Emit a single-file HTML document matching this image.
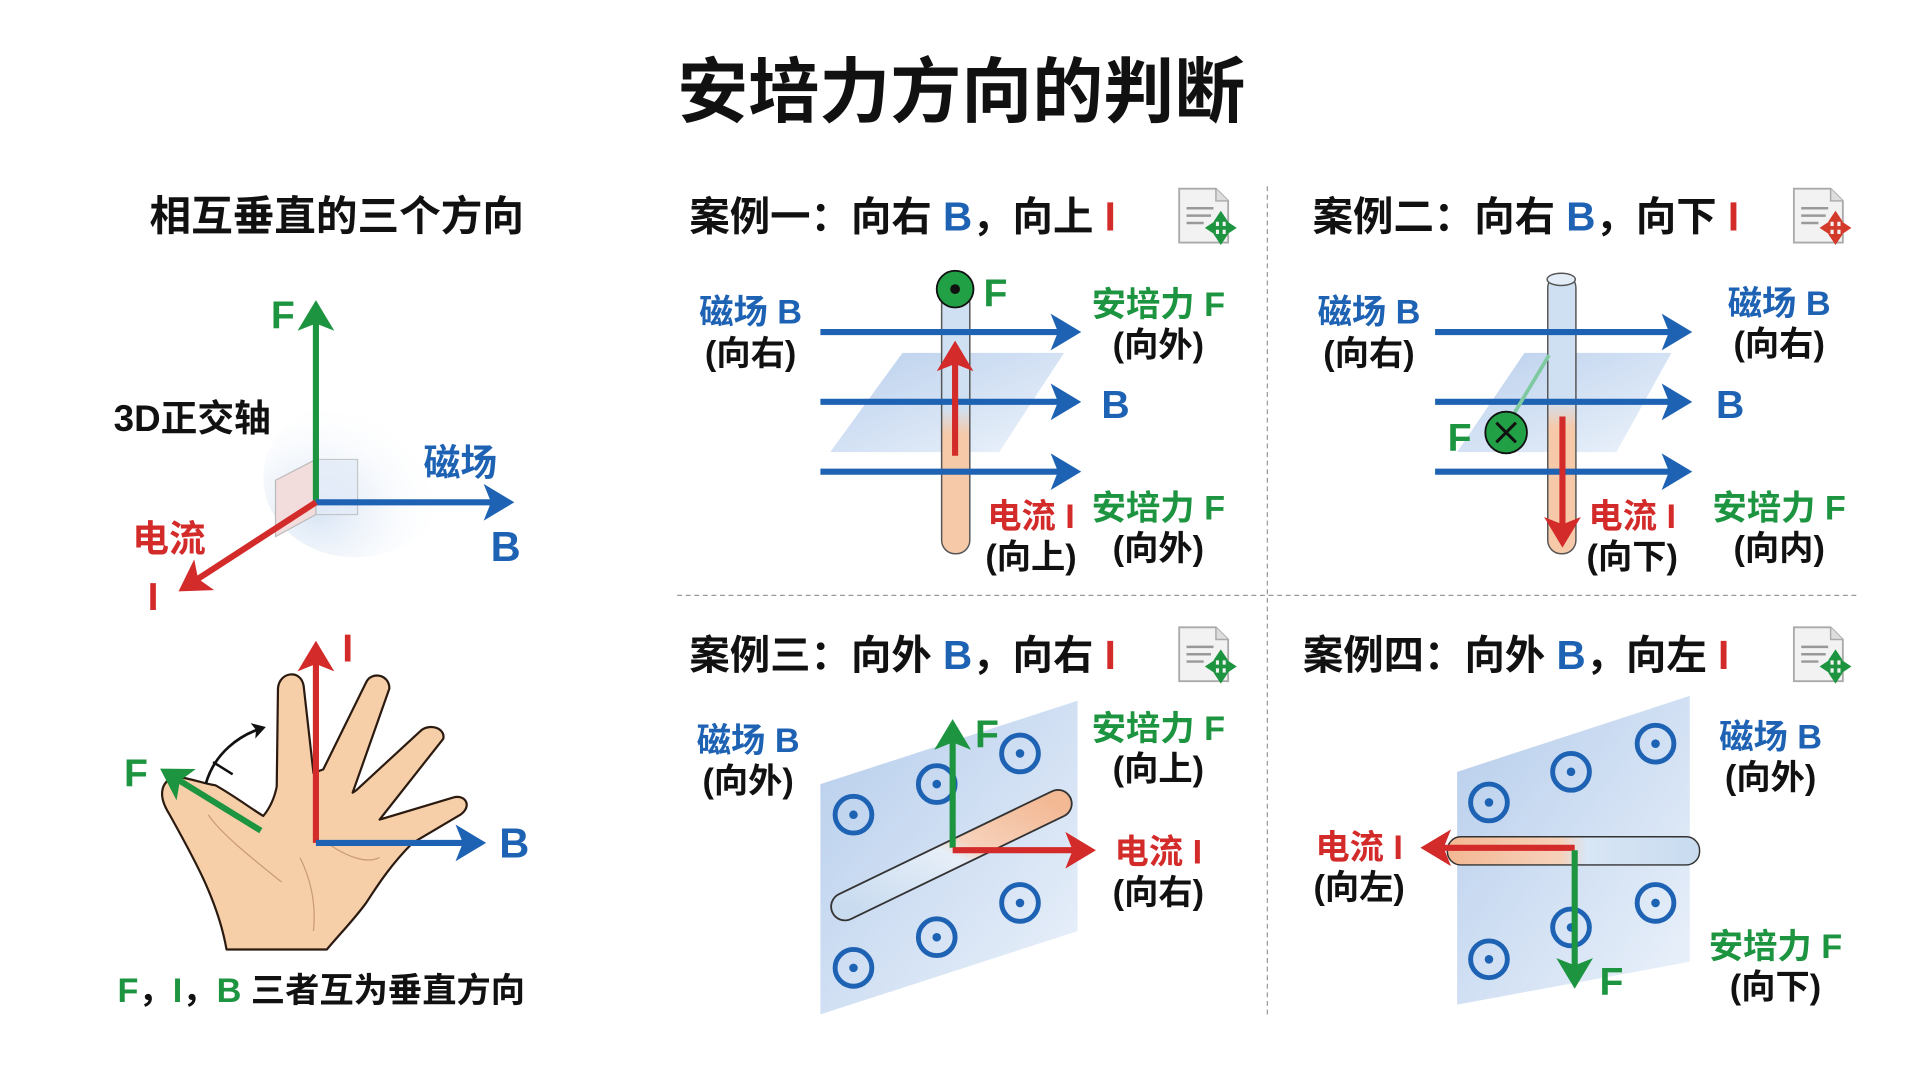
<!DOCTYPE html>
<html><head><meta charset="utf-8"><style>
html,body{margin:0;padding:0;background:#fff;}
svg{display:block;}
text{font-family:"Liberation Sans","Noto Sans CJK SC",sans-serif;font-weight:bold;}
</style></head><body>
<svg width="1920" height="1072" viewBox="0 0 1568 875" preserveAspectRatio="none" xmlns="http://www.w3.org/2000/svg">
<defs>
<marker id="ab" markerWidth="6" markerHeight="6" refX="4" refY="3" orient="auto" markerUnits="strokeWidth"><path d="M0,0 L5,3 L0,6 L1.2,3 Z" fill="#1e62b4"/></marker>
<marker id="ar" markerWidth="6" markerHeight="6" refX="4" refY="3" orient="auto" markerUnits="strokeWidth"><path d="M0,0 L5,3 L0,6 L1.2,3 Z" fill="#d32a2a"/></marker>
<marker id="ag" markerWidth="6" markerHeight="6" refX="4" refY="3" orient="auto" markerUnits="strokeWidth"><path d="M0,0 L5,3 L0,6 L1.2,3 Z" fill="#1d9440"/></marker>
<marker id="ak" markerWidth="6" markerHeight="6" refX="4" refY="3" orient="auto" markerUnits="strokeWidth"><path d="M0,0 L5,3 L0,6 L1.2,3 Z" fill="#111"/></marker>
<marker id="sg" markerWidth="4" markerHeight="4" refX="2" refY="2" orient="auto" markerUnits="strokeWidth"><path d="M0,0 L3,2 L0,4 Z" fill="#1d9440"/></marker>
<marker id="sr" markerWidth="4" markerHeight="4" refX="2" refY="2" orient="auto" markerUnits="strokeWidth"><path d="M0,0 L3,2 L0,4 Z" fill="#d33a2a"/></marker>
<linearGradient id="tubeV" x1="0" y1="0" x2="0" y2="1"><stop offset="0" stop-color="#cfe0f2"/><stop offset="0.45" stop-color="#cfe0f2"/><stop offset="0.55" stop-color="#f6c9a8"/><stop offset="1" stop-color="#f6c9a8"/></linearGradient>
<linearGradient id="plane" x1="0" y1="0" x2="1" y2="1"><stop offset="0" stop-color="#a9c4e8"/><stop offset="1" stop-color="#e8f0fa"/></linearGradient>
<linearGradient id="rodH" x1="0" y1="0" x2="1" y2="0"><stop offset="0" stop-color="#f3b894"/><stop offset="0.45" stop-color="#f6d2bb"/><stop offset="0.55" stop-color="#d8e6f5"/><stop offset="1" stop-color="#c8dbef"/></linearGradient>
<linearGradient id="rodD" x1="0" y1="1" x2="1" y2="0"><stop offset="0" stop-color="#c8dbef"/><stop offset="0.5" stop-color="#e6eef8"/><stop offset="0.6" stop-color="#f6d2bb"/><stop offset="1" stop-color="#f3b894"/></linearGradient>
<radialGradient id="glow" cx="0.3" cy="0.7" r="0.7"><stop offset="0" stop-color="#d6e3f4"/><stop offset="1" stop-color="#fff" stop-opacity="0"/></radialGradient>
<g id="icon">
<path d="M0,2 L30,2 L40,12 L40,46 L0,46 Z" fill="#f2f2f2" stroke="#aaa" stroke-width="1.5"/>
<path d="M30,2 L30,12 L40,12" fill="#ddd" stroke="#aaa" stroke-width="1.2"/>
<path d="M6,18 H28 M6,24 H26 M6,30 H20" stroke="#999" stroke-width="2"/>
</g>
<g id="ig"><g stroke="#1d9440" stroke-width="3"><line x1="34" y1="34" x2="24" y2="34" marker-end="url(#sg)"/><line x1="34" y1="34" x2="44" y2="34" marker-end="url(#sg)"/><line x1="34" y1="34" x2="34" y2="23" marker-end="url(#sg)"/><line x1="34" y1="34" x2="34" y2="45" marker-end="url(#sg)"/></g></g>
<g id="dot"><circle r="15" fill="none" stroke="#1e62b4" stroke-width="4"/><circle r="3.5" fill="#1e62b4"/></g>
</defs>

<text x="785" y="95" font-size="58" text-anchor="middle" fill="#111">安培力方向的判断</text>

<!-- Left -->
<text x="275" y="188" font-size="34" text-anchor="middle" fill="#111">相互垂直的三个方向</text>
<ellipse cx="290" cy="390" rx="75" ry="65" fill="url(#glow)"/>
<path d="M225,392 L258,375 L258,420 L225,438 Z" fill="#f2dcdc" stroke="#bbb" stroke-width="1"/>
<path d="M258,375 L292,375 L292,420 L258,420 Z" fill="#e3ecf8" stroke="#bbb" stroke-width="1" opacity="0.8"/>
<line x1="258" y1="410" x2="258" y2="250" stroke="#1d9440" stroke-width="5" marker-end="url(#ag)"/>
<line x1="258" y1="410" x2="415" y2="410" stroke="#1e62b4" stroke-width="5" marker-end="url(#ab)"/>
<line x1="258" y1="410" x2="150" y2="480" stroke="#d32a2a" stroke-width="5" marker-end="url(#ar)"/>
<text x="231" y="268" font-size="32" text-anchor="middle" fill="#1d9440">F</text>
<text x="157" y="352" font-size="30" text-anchor="middle" fill="#111">3D正交轴</text>
<text x="376" y="388" font-size="30" text-anchor="middle" fill="#1e62b4">磁场</text>
<text x="413" y="458" font-size="34" text-anchor="middle" fill="#1e62b4">B</text>
<text x="138" y="450" font-size="30" text-anchor="middle" fill="#d32a2a">电流</text>
<text x="125" y="498" font-size="32" text-anchor="middle" fill="#d32a2a">I</text>

<!-- Hand -->
<path d="M185,775 C178,735 158,700 138,664 C128,648 132,636 145,634 C158,636 168,640 176,641 C192,650 205,660 215,666 C220,660 224,652 226,642 L227,562 C228,548 246,546 248,560 L256,631 L264,628 L299,557 C303,548 318,550 318,562 L288,647 L291,645 L343,597 C350,590 364,594 362,603 L310,669 L370,651 C380,648 386,658 376,665 L337,688 C320,705 310,720 299,737 C288,752 275,765 267,775 Z" fill="#f6cfa9" stroke="#2a1a10" stroke-width="1.8" stroke-linejoin="round"/>
<path d="M170,665 C180,680 205,700 230,720 M245,700 C255,720 258,740 256,760 M270,690 C285,700 300,705 310,700" fill="none" stroke="#c99a76" stroke-width="1"/>
<path d="M168,640 C175,615 195,600 215,594" fill="none" stroke="#111" stroke-width="2.2" marker-end="url(#ak)"/>
<line x1="174" y1="622" x2="190" y2="632" stroke="#111" stroke-width="2"/>
<line x1="258" y1="688" x2="258" y2="528" stroke="#d32a2a" stroke-width="5" marker-end="url(#ar)"/>
<line x1="258" y1="688" x2="392" y2="688" stroke="#1e62b4" stroke-width="5" marker-end="url(#ab)"/>
<line x1="213" y1="678" x2="135" y2="630" stroke="#1d9440" stroke-width="5" marker-end="url(#ag)"/>
<text x="284" y="540" font-size="32" text-anchor="middle" fill="#d32a2a">I</text>
<text x="420" y="700" font-size="34" text-anchor="middle" fill="#1e62b4">B</text>
<text x="111" y="642" font-size="32" text-anchor="middle" fill="#1d9440">F</text>
<text x="96" y="818" font-size="28" fill="#111"><tspan fill="#1d9440">F</tspan>，<tspan fill="#1d9440">I</tspan>，<tspan fill="#1d9440">B</tspan> 三者互为垂直方向</text>

<!-- dividers -->
<line x1="1035" y1="152" x2="1035" y2="830" stroke="#999" stroke-width="1" stroke-dasharray="4,3"/>
<line x1="553" y1="486" x2="1518" y2="486" stroke="#999" stroke-width="1" stroke-dasharray="4,3"/>

<!-- Case 1 -->
<text x="563" y="188" font-size="33" fill="#111">案例一：向右 <tspan fill="#1e62b4">B</tspan>，向上 <tspan fill="#d32a2a">I</tspan></text>
<use href="#icon" x="963" y="152"/><use href="#ig" x="963" y="152"/>
<polygon points="737,288 869,288 816,369 678,369" fill="url(#plane)" opacity="0.8"/>
<rect x="769" y="236" width="23" height="216" rx="11" fill="url(#tubeV)" stroke="#555" stroke-width="1.2"/>
<g stroke="#1e62b4" stroke-width="5"><line x1="670" y1="271" x2="878" y2="271" marker-end="url(#ab)"/><line x1="670" y1="328" x2="878" y2="328" marker-end="url(#ab)"/><line x1="670" y1="385" x2="878" y2="385" marker-end="url(#ab)"/></g>
<line x1="780" y1="372" x2="780" y2="283" stroke="#d32a2a" stroke-width="5" marker-end="url(#ar)"/>
<circle cx="780" cy="236" r="15" fill="#22a046" stroke="#111" stroke-width="1.5"/><circle cx="780" cy="236" r="4" fill="#111"/>
<text x="813" y="250" font-size="32" text-anchor="middle" fill="#1d9440">F</text>
<text x="613" y="264" font-size="28" text-anchor="middle" fill="#1e62b4">磁场 B</text>
<text x="613" y="298" font-size="28" text-anchor="middle" fill="#111">(向右)</text>
<text x="946" y="258" font-size="28" text-anchor="middle" fill="#1d9440">安培力 F</text>
<text x="946" y="291" font-size="28" text-anchor="middle" fill="#111">(向外)</text>
<text x="911" y="341" font-size="32" text-anchor="middle" fill="#1e62b4">B</text>
<text x="842" y="431" font-size="28" text-anchor="middle" fill="#d32a2a">电流 I</text>
<text x="842" y="464" font-size="28" text-anchor="middle" fill="#111">(向上)</text>
<text x="946" y="424" font-size="28" text-anchor="middle" fill="#1d9440">安培力 F</text>
<text x="946" y="457" font-size="28" text-anchor="middle" fill="#111">(向外)</text>

<!-- Case 2 -->
<text x="1072" y="188" font-size="33" fill="#111">案例二：向右 <tspan fill="#1e62b4">B</tspan>，向下 <tspan fill="#d32a2a">I</tspan></text>
<use href="#icon" x="1465" y="152"/>
<g stroke="#d33a2a" stroke-width="3"><line x1="1499" y1="186" x2="1489" y2="186" marker-end="url(#sr)"/><line x1="1499" y1="186" x2="1509" y2="186" marker-end="url(#sr)"/><line x1="1499" y1="186" x2="1499" y2="175" marker-end="url(#sr)"/><line x1="1499" y1="186" x2="1499" y2="197" marker-end="url(#sr)"/></g>
<polygon points="1245,288 1365,288 1320,369 1190,369" fill="url(#plane)" opacity="0.8"/>
<rect x="1264" y="224" width="23" height="228" rx="11" fill="url(#tubeV)" stroke="#555" stroke-width="1.2"/>
<ellipse cx="1275" cy="228" rx="11.5" ry="5" fill="#e3edf8" stroke="#555" stroke-width="1.2"/>
<g stroke="#1e62b4" stroke-width="5"><line x1="1172" y1="271" x2="1377" y2="271" marker-end="url(#ab)"/><line x1="1172" y1="328" x2="1377" y2="328" marker-end="url(#ab)"/><line x1="1172" y1="385" x2="1377" y2="385" marker-end="url(#ab)"/></g>
<line x1="1232" y1="345" x2="1265" y2="290" stroke="#7fc9a0" stroke-width="3"/>
<line x1="1276" y1="340" x2="1276" y2="442" stroke="#d32a2a" stroke-width="5" marker-end="url(#ar)"/>
<circle cx="1230" cy="353" r="17" fill="#22a046" stroke="#111" stroke-width="1.5"/>
<path d="M1222,345 L1238,361 M1238,345 L1222,361" stroke="#111" stroke-width="2.5"/>
<text x="1192" y="368" font-size="32" text-anchor="middle" fill="#1d9440">F</text>
<text x="1118" y="264" font-size="28" text-anchor="middle" fill="#1e62b4">磁场 B</text>
<text x="1118" y="298" font-size="28" text-anchor="middle" fill="#111">(向右)</text>
<text x="1453" y="257" font-size="28" text-anchor="middle" fill="#1e62b4">磁场 B</text>
<text x="1453" y="290" font-size="28" text-anchor="middle" fill="#111">(向右)</text>
<text x="1413" y="341" font-size="32" text-anchor="middle" fill="#1e62b4">B</text>
<text x="1333" y="431" font-size="28" text-anchor="middle" fill="#d32a2a">电流 I</text>
<text x="1333" y="464" font-size="28" text-anchor="middle" fill="#111">(向下)</text>
<text x="1453" y="424" font-size="28" text-anchor="middle" fill="#1d9440">安培力 F</text>
<text x="1453" y="457" font-size="28" text-anchor="middle" fill="#111">(向内)</text>

<!-- Case 3 -->
<text x="563" y="546" font-size="33" fill="#111">案例三：向外 <tspan fill="#1e62b4">B</tspan>，向右 <tspan fill="#d32a2a">I</tspan></text>
<use href="#icon" x="963" y="510"/><use href="#ig" x="963" y="510"/>
<polygon points="670,640 880,572 880,760 670,828" fill="url(#plane)" opacity="0.85"/>
<use href="#dot" x="697" y="665"/><use href="#dot" x="765" y="640"/><use href="#dot" x="833" y="615"/>
<use href="#dot" x="697" y="790"/><use href="#dot" x="765" y="765"/><use href="#dot" x="833" y="737"/>
<line x1="690" y1="740" x2="864" y2="656" stroke="#333" stroke-width="24" stroke-linecap="round"/>
<line x1="690" y1="740" x2="864" y2="656" stroke="url(#rodD)" stroke-width="21" stroke-linecap="round"/>
<line x1="778" y1="692" x2="778" y2="592" stroke="#1d9440" stroke-width="5" marker-end="url(#ag)"/>
<line x1="778" y1="694" x2="890" y2="694" stroke="#d32a2a" stroke-width="5" marker-end="url(#ar)"/>
<text x="806" y="610" font-size="32" text-anchor="middle" fill="#1d9440">F</text>
<text x="611" y="614" font-size="28" text-anchor="middle" fill="#1e62b4">磁场 B</text>
<text x="611" y="647" font-size="28" text-anchor="middle" fill="#111">(向外)</text>
<text x="946" y="604" font-size="28" text-anchor="middle" fill="#1d9440">安培力 F</text>
<text x="946" y="637" font-size="28" text-anchor="middle" fill="#111">(向上)</text>
<text x="946" y="705" font-size="28" text-anchor="middle" fill="#d32a2a">电流 I</text>
<text x="946" y="738" font-size="28" text-anchor="middle" fill="#111">(向右)</text>

<!-- Case 4 -->
<text x="1064" y="546" font-size="33" fill="#111">案例四：向外 <tspan fill="#1e62b4">B</tspan>，向左 <tspan fill="#d32a2a">I</tspan></text>
<use href="#icon" x="1465" y="510"/><use href="#ig" x="1465" y="510"/>
<polygon points="1190,630 1380,568 1380,785 1190,820" fill="url(#plane)" opacity="0.85"/>
<use href="#dot" x="1216" y="655"/><use href="#dot" x="1283" y="630"/><use href="#dot" x="1352" y="607"/>
<use href="#dot" x="1216" y="783"/><use href="#dot" x="1283" y="757"/><use href="#dot" x="1352" y="737"/>
<rect x="1182" y="683" width="206" height="23" rx="11" fill="url(#rodH)" stroke="#333" stroke-width="1.2"/>
<line x1="1286" y1="692" x2="1165" y2="692" stroke="#d32a2a" stroke-width="5" marker-end="url(#ar)"/>
<line x1="1286" y1="694" x2="1286" y2="802" stroke="#1d9440" stroke-width="5" marker-end="url(#ag)"/>
<text x="1316" y="812" font-size="32" text-anchor="middle" fill="#1d9440">F</text>
<text x="1110" y="701" font-size="28" text-anchor="middle" fill="#d32a2a">电流 I</text>
<text x="1110" y="734" font-size="28" text-anchor="middle" fill="#111">(向左)</text>
<text x="1446" y="611" font-size="28" text-anchor="middle" fill="#1e62b4">磁场 B</text>
<text x="1446" y="644" font-size="28" text-anchor="middle" fill="#111">(向外)</text>
<text x="1450" y="782" font-size="28" text-anchor="middle" fill="#1d9440">安培力 F</text>
<text x="1450" y="815" font-size="28" text-anchor="middle" fill="#111">(向下)</text>
</svg>
</body></html>
